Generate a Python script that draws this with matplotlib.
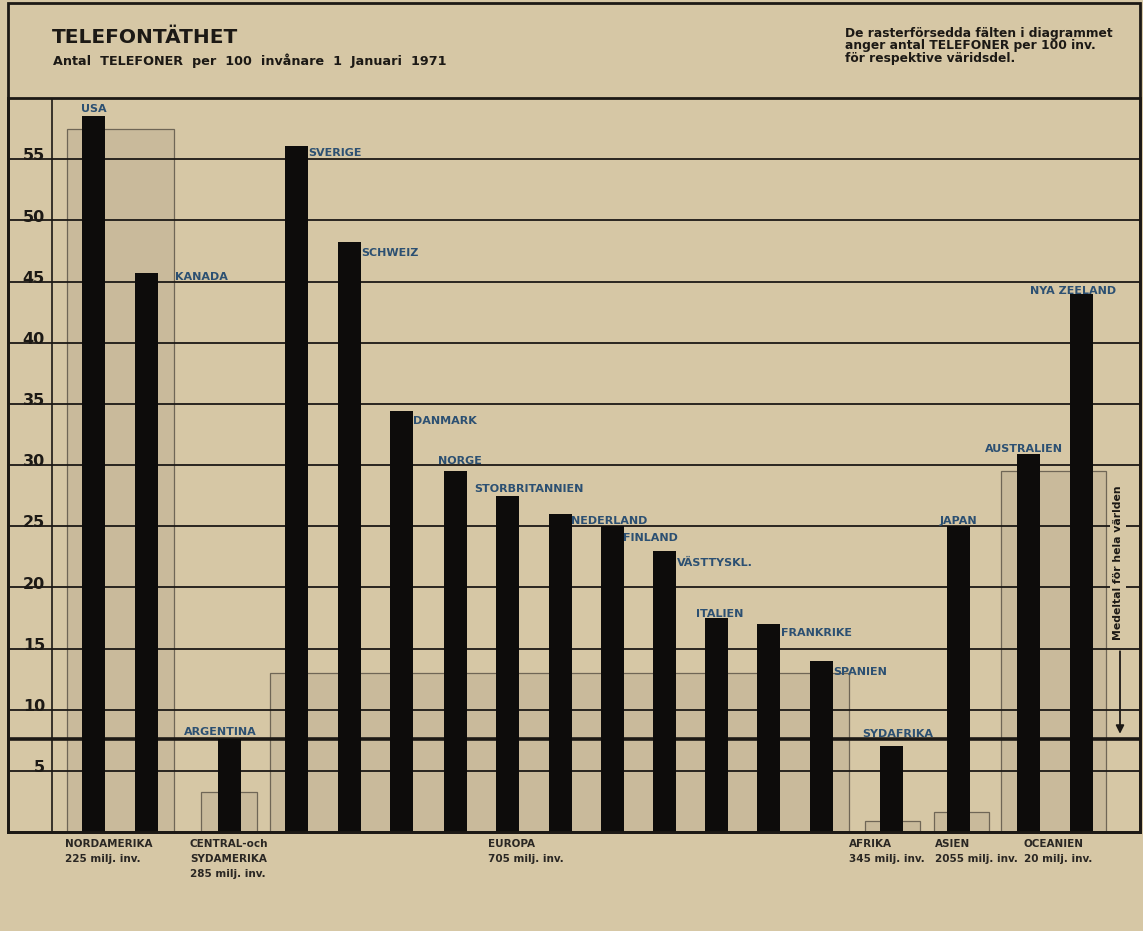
import matplotlib
matplotlib.use("Agg")
import matplotlib.pyplot as plt
from matplotlib.patches import Rectangle

# telefoner per 100 invanare, 1 jan 1971
countries = ["USA", "KANADA", "ARGENTINA", "SVERIGE", "SCHWEIZ", "DANMARK", "NORGE",
             "STORBRITANNIEN", "NEDERLAND", "FINLAND", "VÄSTTYSKL.", "ITALIEN",
             "FRANKRIKE", "SPANIEN", "SYDAFRIKA", "JAPAN", "AUSTRALIEN", "NYA ZEELAND"]
phones = [58.5, 45.7, 7.6, 56.1, 48.2, 34.4, 29.5, 27.5, 26.0, 25.0, 23.0, 17.5,
          17.0, 14.0, 7.0, 25.0, 30.9, 44.0]

regions = ["NORDAMERIKA", "CENTRAL-och\nSYDAMERIKA", "EUROPA", "AFRIKA", "ASIEN", "OCEANIEN"]
population = ["225 milj. inv.", "285 milj. inv.", "705 milj. inv.", "345 milj. inv.",
              "2055 milj. inv.", "20 milj. inv."]
region_avg = [57.5, 3.3, 13.0, 0.9, 1.6, 29.5]
world_avg = 7.6
yticks = [5, 10, 15, 20, 25, 30, 35, 40, 45, 50, 55]

# layout (x in pixel-like units across the frame)
bar_x = [85.5, 138, 221.5, 288, 341.5, 393.5, 447, 499.5, 552.5, 604.5, 656.5,
         708.5, 760.5, 813.5, 883.5, 950.5, 1020.5, 1073]
bar_w = 23
region_span = [(59, 166), (193, 249), (262, 841), (857, 912), (926, 981), (993, 1098)]
region_text_x = [57, 182, 480, 841, 927, 1016]
# (ha, dx px, dy px) for country labels
label_pos = [("center", 0, 7), ("left", 29, -4), ("center", -9, 7), ("left", 12, -7),
             ("left", 12, -11), ("left", 12, -10), ("center", 5, 10), ("left", -33, 7),
             ("left", 10, -7), ("left", 10, -12), ("left", 12, -12), ("center", 3, 4),
             ("left", 12, -9), ("left", 12, -11), ("center", 6, 12), ("center", 0, 5),
             ("center", -5, 5), ("center", -8, 3)]

paper = "#d6c7a5"
shade = "#c9ba9b"
ink = "#1c1915"
blue = "#2c5072"

plt.rcParams["font.family"] = ["DejaVu Sans"]
fig = plt.figure(figsize=(11.43, 9.31), dpi=100, facecolor=paper)
W, H = 1143, 931
ax = fig.add_axes([8 / W, (H - 832) / H, 1132 / W, (832 - 98) / H])
ax.set_facecolor(paper)
ax.set_xlim(0, 1132)
ax.set_ylim(0, 60)
ax.set_xticks([])
ax.set_yticks([])
for s in ax.spines.values():
    s.set_linewidth(2)
    s.set_color(ink)

# regional averages (shaded fields)
for (x0, x1), v in zip(region_span, region_avg):
    ax.add_patch(Rectangle((x0, 0), x1 - x0, v, facecolor=shade, edgecolor="#6f6656",
                           lw=0.9, zorder=1))

# grid
for v in yticks:
    ax.axhline(v, color=ink, lw=1.3, zorder=2)
    ax.text(37, v - 0.1, str(v), ha="right", va="baseline", fontsize=11.5,
            fontweight="bold", color=ink, zorder=3)
ax.axhline(world_avg, color=ink, lw=2.6, zorder=2)
ax.axvline(44, color=ink, lw=1.2, zorder=2)

# bars
ax.bar(bar_x, phones, width=bar_w, color="#0d0c0b", zorder=4)
for name, x, v, (ha, dx, dy) in zip(countries, bar_x, phones, label_pos):
    ax.annotate(name, (x, v), xytext=(dx, dy), textcoords="offset pixels",
                ha=ha, va="center", fontsize=8, fontweight="bold", color=blue, zorder=5)

# world average marker
ax.text(1110, 22.0, "Medeltal för hela världen", rotation=90, ha="center", va="center",
        fontsize=7.8, fontweight="bold", color=ink, zorder=5,
        bbox=dict(facecolor=paper, edgecolor="none", pad=2))
ax.annotate("", xy=(1112, world_avg + 0.2), xytext=(1112, 15.0),
            arrowprops=dict(arrowstyle="-|>", color=ink, lw=1.3, mutation_scale=12), zorder=5)

# region names under the axis
for x, name, pop in zip(region_text_x, regions, population):
    ax.annotate(name + "\n" + pop, (x, 0), xycoords=("data", "axes fraction"),
                xytext=(0, -7), textcoords="offset pixels", ha="left", va="top",
                fontsize=7.5, fontweight="bold", color="#2a2723", linespacing=1.65,
                annotation_clip=False)

# frame around title block
fig.add_artist(Rectangle((8 / W, (H - 832) / H), 1132 / W, 829 / H, transform=fig.transFigure,
                         fill=False, edgecolor=ink, lw=2))
fig.text(52 / W, (H - 43) / H, "TELEFONTÄTHET", fontsize=14.5, fontweight="bold",
         color=ink, va="baseline")
fig.text(53 / W, (H - 65) / H, "Antal  TELEFONER  per  100  invånare  1  Januari  1971",
         fontsize=9.2, fontweight="bold", color=ink, va="baseline")
fig.text(845 / W, (H - 27) / H,
         "De rasterförsedda fälten i diagrammet\nanger antal TELEFONER per 100 inv.\nför respektive väridsdel.",
         fontsize=8.8, fontweight="bold", color=ink, va="top", linespacing=0.95)

fig.savefig("out.png", dpi=100, facecolor=paper)
